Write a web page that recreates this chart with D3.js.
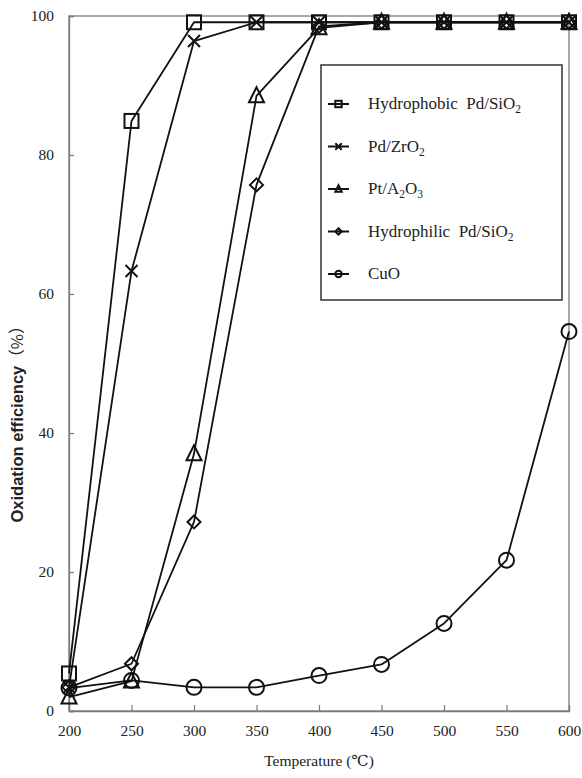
<!DOCTYPE html>
<html>
<head>
<meta charset="utf-8">
<script src="https://cdn.jsdelivr.net/npm/d3@7"></script>
<style>
  html, body { margin: 0; padding: 0; background: #fff; }
  svg { display: block; }
  text { fill: #222; }
</style>
</head>
<body>
<svg id="chart" width="582" height="778"></svg>
<script>
// Temperatures (°C) on the x axis
const temperatures = [200, 250, 300, 350, 400, 450, 500, 550, 600];

// Oxidation efficiency (%) for each catalyst
const hydrophobicPdSiO2 = [5.4, 84.9, 99.1, 99.1, 99.1, 99.1, 99.1, 99.1, 99.1];
const pdZrO2           = [3.4, 63.3, 96.4, 99.1, 99.1, 99.1, 99.1, 99.1, 99.1];
const ptAl2O3          = [2.0, 4.3, 37.0, 88.5, 98.3, 99.1, 99.1, 99.1, 99.1];
const hydrophilicPdSiO2 = [3.4, 6.8, 27.2, 75.7, 98.5, 99.1, 99.1, 99.1, 99.1];
const cuO              = [3.3, 4.4, 3.4, 3.4, 5.1, 6.7, 12.6, 21.7, 54.6];

const xTicks = [200, 250, 300, 350, 400, 450, 500, 550, 600];
const yTicks = [0, 20, 40, 60, 80, 100];

// Legend labels: [text, kind] pieces, kind "sub" for subscripts
const seriesLabels = [
  [["Hydrophobic\u00a0\u00a0Pd/SiO", ""], ["2", "sub"]],
  [["Pd/ZrO", ""], ["2", "sub"]],
  [["Pt/A", ""], ["2", "sub"], ["O", ""], ["3", "sub"]],
  [["Hydrophilic\u00a0\u00a0Pd/SiO", ""], ["2", "sub"]],
  [["CuO", ""]]
];
const seriesValues = [hydrophobicPdSiO2, pdZrO2, ptAl2O3, hydrophilicPdSiO2, cuO];
const seriesMarkers = ["square", "cross", "triangle", "diamond", "circle"];

const serif = "'Liberation Serif', 'DejaVu Serif', serif";
const svg = d3.select("#chart");
const margin = { left: 69, top: 16, right: 13, bottom: 67 };
const W = 582, H = 778;

const x = d3.scaleLinear().domain([200, 600]).range([margin.left, W - margin.right]);
const y = d3.scaleLinear().domain([0, 100]).range([H - margin.bottom, margin.top]);

const axisColor = "#7a7a7a";

// plot frame
svg.append("rect")
  .attr("x", x(200)).attr("y", y(100))
  .attr("width", x(600) - x(200)).attr("height", y(0) - y(100))
  .attr("fill", "none").attr("stroke", axisColor).attr("stroke-width", 1.3);

// x axis (ticks point inward)
const gx = svg.append("g")
  .attr("transform", `translate(0,${y(0)})`)
  .call(d3.axisBottom(x).tickValues(xTicks).tickSize(-6).tickPadding(14).tickFormat(d3.format("d")));
gx.attr("font-family", serif);
gx.select(".domain").attr("stroke", axisColor).attr("stroke-width", 1.3);
gx.selectAll(".tick line").attr("stroke", axisColor).attr("stroke-width", 1.2);
gx.selectAll(".tick text")
  .attr("font-family", serif).attr("font-size", 15.5).attr("fill", "#222");

// y axis (ticks point inward)
const gy = svg.append("g")
  .attr("transform", `translate(${x(200)},0)`)
  .call(d3.axisLeft(y).tickValues(yTicks).tickSize(-5).tickPadding(15).tickFormat(d3.format("d")));
gy.attr("font-family", serif);
gy.select(".domain").attr("stroke", axisColor).attr("stroke-width", 1.3);
gy.selectAll(".tick line").attr("stroke", axisColor).attr("stroke-width", 1.2);
gy.selectAll(".tick text")
  .attr("font-family", serif).attr("font-size", 15.5).attr("fill", "#222");

// axis titles
svg.append("text")
  .attr("x", (x(200) + x(600)) / 2).attr("y", 766)
  .attr("text-anchor", "middle").attr("font-size", 15.5).attr("font-family", serif)
  .text("Temperature (\u2103)");

const yTitle = svg.append("text")
  .attr("transform", "translate(23,420) rotate(-90)")
  .attr("text-anchor", "middle").attr("font-size", 16.5)
  .attr("font-family", "'Liberation Sans', Arial, sans-serif").attr("font-weight", 600)
  .attr("fill", "#333");
yTitle.append("tspan").text("Oxidation efficiency");
yTitle.append("tspan").attr("font-family", "'Noto Sans CJK SC', sans-serif").attr("font-weight", 400)
  .text("\uff08%\uff09");

// marker shapes
function drawMarker(g, type, cx, cy, s, sw) {
  const stroke = "#111";
  let el;
  if (type === "square") {
    el = g.append("rect").attr("x", cx - s).attr("y", cy - s).attr("width", 2 * s).attr("height", 2 * s);
  } else if (type === "cross") {
    el = g.append("path")
      .attr("d", `M${cx - s},${cy - s}L${cx + s},${cy + s}M${cx - s},${cy + s}L${cx + s},${cy - s}`);
  } else if (type === "triangle") {
    el = g.append("path")
      .attr("d", `M${cx},${cy - s * 1.15}L${cx + s},${cy + s * 0.85}L${cx - s},${cy + s * 0.85}Z`);
  } else if (type === "diamond") {
    el = g.append("path")
      .attr("d", `M${cx},${cy - s}L${cx + s},${cy}L${cx},${cy + s}L${cx - s},${cy}Z`);
  } else {
    el = g.append("circle").attr("cx", cx).attr("cy", cy).attr("r", s);
  }
  el.attr("fill", "none").attr("stroke", stroke).attr("stroke-width", sw);
}
const markerSize = { square: 7, cross: 6, triangle: 7.5, diamond: 6.5, circle: 7.5 };

const line = d3.line().x((d, i) => x(temperatures[i])).y(d => y(d));

// series lines
seriesValues.forEach(vals => {
  svg.append("path").datum(vals).attr("d", line)
    .attr("fill", "none").attr("stroke", "#111").attr("stroke-width", 1.8)
    .attr("stroke-linejoin", "round");
});

// series markers
seriesValues.forEach((vals, k) => {
  const g = svg.append("g");
  vals.forEach((v, i) => drawMarker(g, seriesMarkers[k], x(temperatures[i]), y(v), markerSize[seriesMarkers[k]], 2));
});

// legend
const legend = svg.append("g");
legend.append("rect").attr("x", 321).attr("y", 65).attr("width", 241).attr("height", 235)
  .attr("fill", "#fff").attr("stroke", "#333").attr("stroke-width", 1.5);

seriesLabels.forEach((parts, k) => {
  const ly = 104 + k * 42.5;
  legend.append("line").attr("x1", 328).attr("x2", 349).attr("y1", ly).attr("y2", ly)
    .attr("stroke", "#111").attr("stroke-width", 2);
  drawMarker(legend, seriesMarkers[k], 338.5, ly, 3.2, 2);
  const t = legend.append("text").attr("x", 368).attr("y", ly + 5)
    .attr("font-size", 17).attr("font-family", serif);
  parts.forEach(([txt, kind], j) => {
    const ts = t.append("tspan").text(txt);
    if (kind === "sub") ts.attr("font-size", 11.5).attr("dy", 4);
    else if (j > 0) ts.attr("dy", -4);
  });
});
</script>
</body>
</html>
